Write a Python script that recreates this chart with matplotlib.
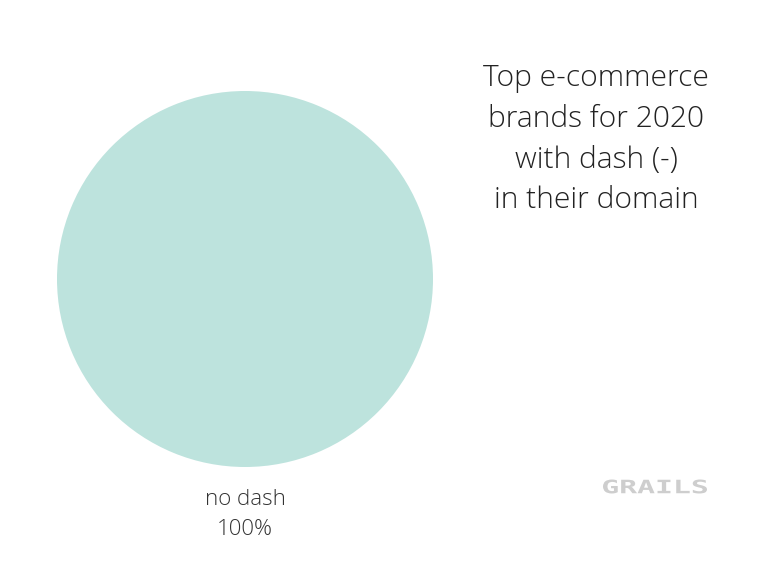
import matplotlib
matplotlib.use("Agg")
import matplotlib.pyplot as plt
from matplotlib.textpath import TextPath
from matplotlib.patches import PathPatch
from matplotlib.font_manager import FontProperties
from matplotlib.transforms import Affine2D

categories = ["no dash"]
values = [100]
colors = ["#bde3dd"]
title = "Top e-commerce\nbrands for 2020\nwith dash (-)\nin their domain"
logo = "GRAILS"

W, H = 768, 569
fig = plt.figure(figsize=(W / 100, H / 100), dpi=100)
ax = fig.add_axes([0, 0, 1, 1])

cx, cy, r = 245, H - 279, 188
ax.pie(values, colors=colors, center=(cx, cy), radius=r, startangle=90,
       counterclock=False, frame=True)
ax.set_xlim(0, W)
ax.set_ylim(0, H)
ax.set_aspect("equal")
ax.axis("off")

fam = ["Open Sans", "DejaVu Sans"]
total = sum(values)
ax.text(cx, H - 514.5, f"{categories[0]}\n{values[0] / total * 100:.0f}%",
        ha="center", va="center", fontsize=16, family=fam, weight="light",
        color="#333333", linespacing=1.58)

ax.text(596, H - 139.5, title, ha="center", va="center", fontsize=21.6,
        family=fam, weight="light", color="#222222", linespacing=1.49)

# logo text, stretched horizontally
fp = FontProperties(family="DejaVu Sans Mono", weight="bold")
tp = TextPath((0, 0), logo, size=20.5, prop=fp)
bb = tp.get_extents()
sx = 104 / bb.width
sy = 14 / bb.height
tr = (Affine2D().translate(-bb.x0 - bb.width / 2, -bb.y0 - bb.height / 2)
      .scale(sx, sy).translate(655, H - 486.5))
ax.add_patch(PathPatch(tr.transform_path(tp), facecolor="#cecece",
                       edgecolor="none"))

fig.savefig("out.png", dpi=100)
